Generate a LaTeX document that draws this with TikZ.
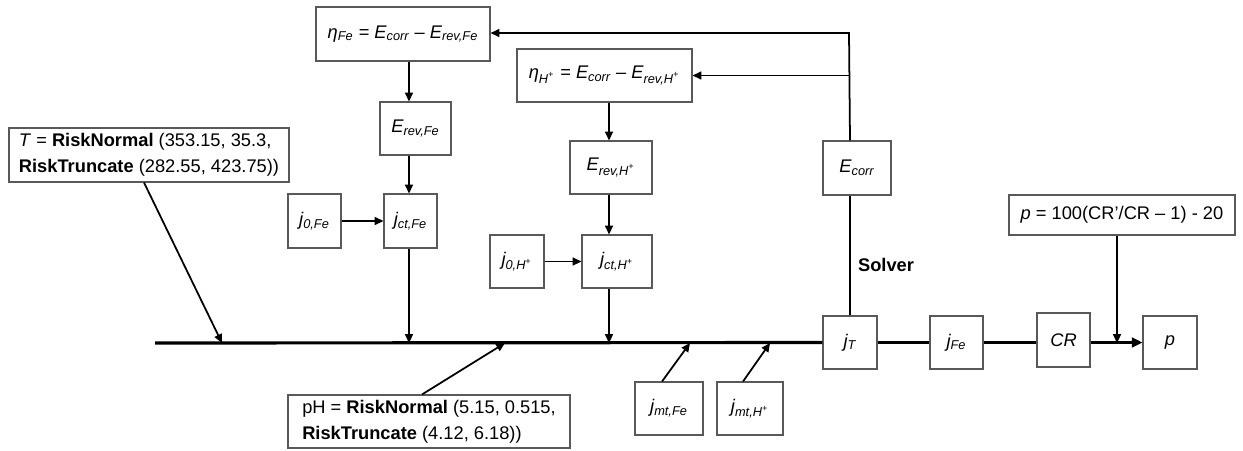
\documentclass[tikz,border=0pt]{standalone}
\usepackage{fontspec}
\setmainfont{Liberation Sans}
\usetikzlibrary{arrows.meta, calc}
\newcommand{\lo}[1]{\textsubscript{\itshape #1}}
\newcommand{\hplus}{H\textsuperscript{+}}

\begin{document}
\begin{tikzpicture}[
    box/.style={rectangle, draw=black!65, line width=0.6pt, minimum width=1.06cm, minimum height=1.06cm, inner sep=2pt, align=center, font=\fontsize{10.4}{15}\selectfont},
    textbox/.style={box, align=left},
    arrow/.style={-{Triangle[length=5pt,width=4.5pt]}, line width=1pt},
    link/.style={line width=1pt},
    mainline/.style={line width=1.8pt}
]
\useasboundingbox (0,0) rectangle (24.86,-9);

%%%%%%%%%%%%%%%%%%%%%%%%%%%%%%%%%%%%%%%%%%%%%%%%%%%%%%%%%%%%%%%%%%%
% Input distributions
%%%%%%%%%%%%%%%%%%%%%%%%%%%%%%%%%%%%%%%%%%%%%%%%%%%%%%%%%%%%%%%%%%%
\node[textbox, minimum width=5.6cm, minimum height=1.08cm] (tbox) at (2.98,-3.10)
    {\textit{T} = \textbf{RiskNormal} (353.15, 35.3,\\ \textbf{RiskTruncate} (282.55, 423.75))};
\node[textbox, minimum width=5.64cm] (phbox) at (8.58,-8.43)
    {pH = \textbf{RiskNormal} (5.15, 0.515,\\ \textbf{RiskTruncate} (4.12, 6.18))};

%%%%%%%%%%%%%%%%%%%%%%%%%%%%%%%%%%%%%%%%%%%%%%%%%%%%%%%%%%%%%%%%%%%
% Iron branch
%%%%%%%%%%%%%%%%%%%%%%%%%%%%%%%%%%%%%%%%%%%%%%%%%%%%%%%%%%%%%%%%%%%
\node[box, minimum width=3.48cm, minimum height=1.08cm] (etaFe) at (8.06,-0.68)
    {{\itshape η}\lo{Fe} = {\itshape E}\lo{corr} -- {\itshape E}\lo{rev,Fe}};
\node[box, minimum width=1.42cm] (erevFe) at (8.31,-2.57) {{\itshape E}\lo{rev,Fe}};
\node[box, minimum height=1.08cm] (jctFe) at (8.21,-4.42) {{\itshape j}\lo{ct,Fe}};
\node[box, minimum height=1.08cm] (jzeroFe) at (6.29,-4.42) {{\itshape j}\lo{0,Fe}};

%%%%%%%%%%%%%%%%%%%%%%%%%%%%%%%%%%%%%%%%%%%%%%%%%%%%%%%%%%%%%%%%%%%
% Hydrogen branch
%%%%%%%%%%%%%%%%%%%%%%%%%%%%%%%%%%%%%%%%%%%%%%%%%%%%%%%%%%%%%%%%%%%
\node[box, minimum width=3.5cm] (etaH) at (12.09,-1.51)
    {{\itshape η}\lo{\hplus} = {\itshape E}\lo{corr} -- {\itshape E}\lo{rev,\hplus}};
\node[box, minimum width=1.64cm] (erevH) at (12.22,-3.35) {{\itshape E}\lo{rev,\hplus}};
\node[box, minimum width=1.4cm] (jctH) at (12.34,-5.23) {{\itshape j}\lo{ct,\hplus}};
\node[box, minimum width=1.08cm] (jzeroH) at (10.34,-5.23) {{\itshape j}\lo{0,\hplus}};

% mass transfer limits
\node[box, minimum width=1.36cm] (jmtFe) at (13.38,-8.17) {{\itshape j}\lo{mt,Fe}};
\node[box, minimum width=1.32cm] (jmtH) at (15.0,-8.17) {{\itshape j}\lo{mt,\hplus}};

%%%%%%%%%%%%%%%%%%%%%%%%%%%%%%%%%%%%%%%%%%%%%%%%%%%%%%%%%%%%%%%%%%%
% Solver and output chain
%%%%%%%%%%%%%%%%%%%%%%%%%%%%%%%%%%%%%%%%%%%%%%%%%%%%%%%%%%%%%%%%%%%
\node[box, minimum width=1.36cm, minimum height=1.08cm] (ecorr) at (17.14,-3.36) {{\itshape E}\lo{corr}};
\node[font=\fontsize{10.4}{12}\selectfont\bfseries] (solver) at (17.72,-5.30) {Solver};
\node[box, minimum width=1.08cm] (jT) at (17.0,-6.85) {{\itshape j}\lo{T}};
\node[box] (jFe) at (19.13,-6.85) {{\itshape j}\lo{Fe}};
\node[box, minimum height=1.08cm] (cr) at (21.27,-6.80) {\itshape CR};
\node[box, minimum width=1.08cm] (p) at (23.4,-6.85) {\itshape p};
\node[box, minimum width=4.52cm, minimum height=0.8cm] (pform) at (22.44,-4.30)
    {\textit{p} = 100(CR’/CR -- 1) - 20};

%%%%%%%%%%%%%%%%%%%%%%%%%%%%%%%%%%%%%%%%%%%%%%%%%%%%%%%%%%%%%%%%%%%
% Main line and junction points
%%%%%%%%%%%%%%%%%%%%%%%%%%%%%%%%%%%%%%%%%%%%%%%%%%%%%%%%%%%%%%%%%%%
\coordinate (lineStart) at (3.10,-6.86);
\coordinate (colFe) at (8.18,0);
\coordinate (colH) at (12.18,0);
\coordinate (tIn) at (4.44,-6.86);
\coordinate (phIn) at (10.10,-6.86);
\coordinate (mtFeIn) at (13.80,-6.86);
\coordinate (mtHIn) at (15.40,-6.86);
\coordinate (topLoop) at (16.98,-0.66);
\coordinate (pformOut) at ($(pform.south)+(-0.1,0)$);

\draw[mainline] (lineStart) -- (jT.west);
\draw[mainline] (jT.east) -- (jFe.west);
\draw[mainline] (jFe.east) -- (cr.west |- jFe.east);
\draw[mainline, -{Triangle[length=6pt,width=5.5pt]}] (cr.east |- p.west) -- (p.west);

%%%%%%%%%%%%%%%%%%%%%%%%%%%%%%%%%%%%%%%%%%%%%%%%%%%%%%%%%%%%%%%%%%%
% Connections
%%%%%%%%%%%%%%%%%%%%%%%%%%%%%%%%%%%%%%%%%%%%%%%%%%%%%%%%%%%%%%%%%%%
\draw[arrow] ($(tbox.south)+(-0.1,0)$) -- (tIn);
\draw[arrow] ($(phbox.north)+(-0.14,0)$) -- (phIn);

\draw[arrow] (colFe |- etaFe.south) -- (colFe |- erevFe.north);
\draw[arrow] (colFe |- erevFe.south) -- (colFe |- jctFe.north);
\draw[arrow] (jzeroFe) -- (jctFe);
\draw[arrow] (colFe |- jctFe.south) -- (colFe |- lineStart);

\draw[arrow] (colH |- etaH.south) -- (colH |- erevH.north);
\draw[arrow] (colH |- erevH.south) -- (colH |- jctH.north);
\draw[arrow] (jzeroH) -- (jctH);
\draw[arrow] (colH |- jctH.south) -- (colH |- lineStart);

\draw[arrow] ($(jmtFe.north)+(-0.14,0)$) -- (mtFeIn);
\draw[arrow] ($(jmtH.north)+(-0.14,0)$) -- (mtHIn);

\draw[link] (jT.north) -- (jT.north |- ecorr.south);
\draw[arrow] (jT.north |- ecorr.north) -- (topLoop) -- (etaFe.east |- topLoop);
\draw[arrow] (jT.north |- etaH.east) -- (etaH.east);

\draw[arrow] (pformOut) -- (pformOut |- lineStart);

\end{tikzpicture}
\end{document}
